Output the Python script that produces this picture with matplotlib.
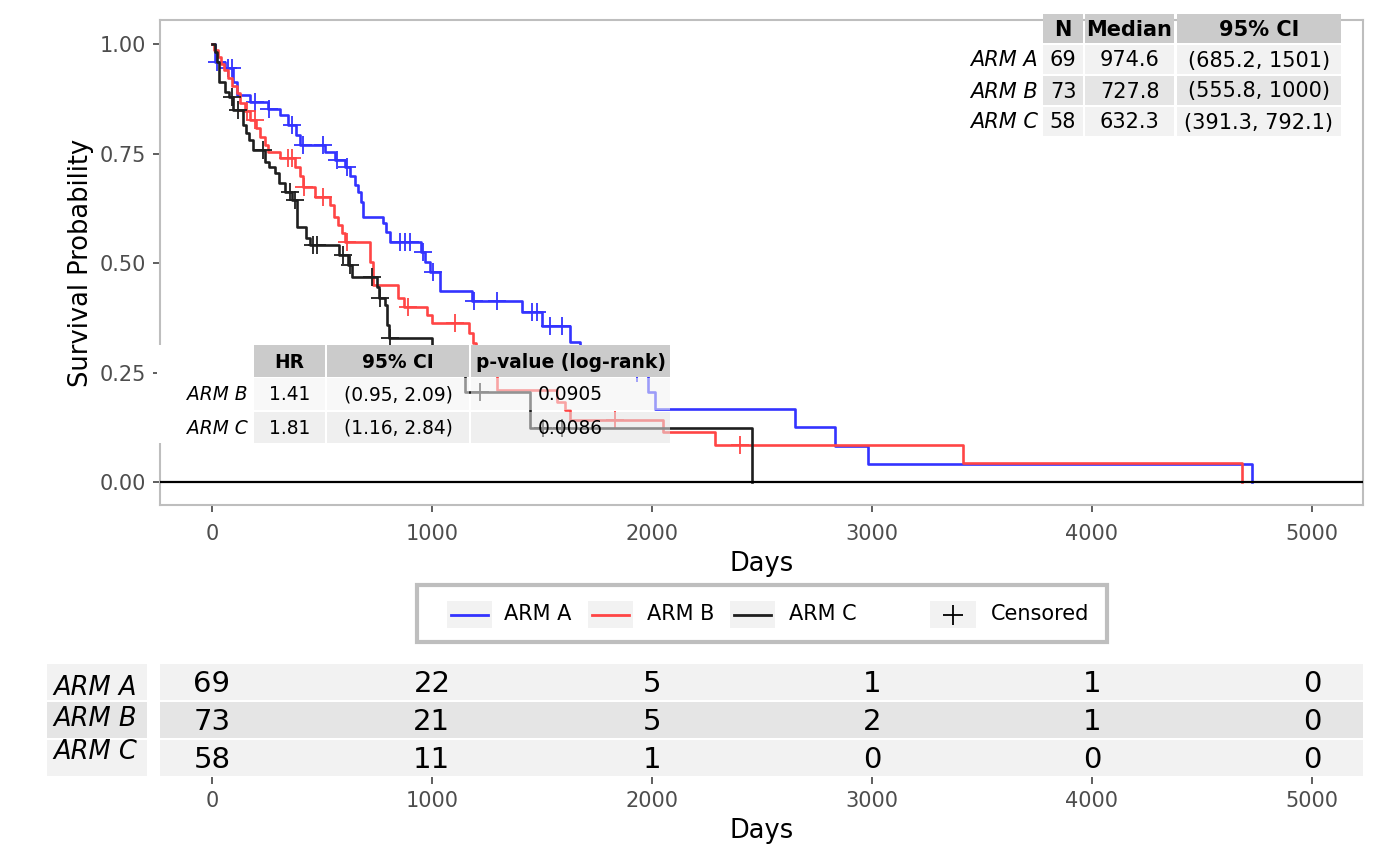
import numpy as np
import matplotlib
matplotlib.use("Agg")
import matplotlib.pyplot as plt
from matplotlib.patches import Rectangle

W, H = 1400, 866

# ---- data ----
arms = ["ARM A", "ARM B", "ARM C"]
colors = ["#3333ff", "#ff4545", "#1f1f1f"]

a_times = [14, 59, 95, 114, 173, 255, 309, 345, 382, 400, 514, 559, 605, 627, 650, 664, 677, 686,
           777, 791, 809, 950, 968, 991, 1036, 1182, 1409, 1500, 1627, 1673, 1764, 1855, 1982, 2014,
           2650, 2832, 2982, 4727]
a_surv = [0.959, 0.945, 0.913, 0.884, 0.868, 0.852, 0.838, 0.815, 0.792, 0.769, 0.753, 0.735, 0.719,
          0.699, 0.678, 0.662, 0.639, 0.605, 0.591, 0.571, 0.548, 0.525, 0.502, 0.479, 0.436, 0.413,
          0.388, 0.356, 0.320, 0.295, 0.272, 0.250, 0.205, 0.167, 0.125, 0.083, 0.042, 0.0]
a_cens = [23, 73, 91, 195, 259, 364, 414, 505, 568, 614, 855, 877, 900, 960, 1005, 1190, 1295,
          1455, 1477, 1536, 1591, 1932]

b_times = [9, 27, 41, 55, 73, 91, 114, 127, 150, 173, 200, 218, 241, 255, 309, 377, 400, 414, 468,
           536, 555, 573, 591, 605, 718, 732, 845, 873, 977, 1000, 1168, 1186, 1200, 1241, 1295,
           1568, 1605, 1627, 2050, 2286, 3414, 4682]
b_surv = [0.986, 0.970, 0.954, 0.941, 0.922, 0.904, 0.888, 0.865, 0.847, 0.826, 0.808, 0.788, 0.769,
          0.753, 0.740, 0.719, 0.699, 0.674, 0.651, 0.632, 0.605, 0.587, 0.568, 0.548, 0.502, 0.450,
          0.420, 0.400, 0.381, 0.363, 0.340, 0.317, 0.290, 0.260, 0.210, 0.183, 0.164, 0.142, 0.114,
          0.085, 0.043, 0.0]
b_cens = [160, 195, 345, 364, 420, 505, 614, 890, 1105, 1832, 2400]

c_times = [14, 23, 32, 59, 77, 95, 141, 155, 168, 186, 241, 259, 286, 305, 332, 364, 386, 427, 445,
           577, 618, 636, 750, 759, 786, 795, 805, 1000, 1082, 1150, 1445, 2455]
c_surv = [0.982, 0.959, 0.913, 0.890, 0.879, 0.849, 0.815, 0.797, 0.781, 0.758, 0.731, 0.719, 0.705,
          0.683, 0.662, 0.644, 0.582, 0.557, 0.541, 0.518, 0.495, 0.468, 0.445, 0.420, 0.404, 0.358,
          0.329, 0.285, 0.255, 0.205, 0.123, 0.0]
c_cens = [91, 118, 232, 355, 377, 459, 477, 595, 627, 727, 764, 810, 1218, 1505, 1591]

risk_times = [0, 1000, 2000, 3000, 4000, 5000]
risk_a = [69, 22, 5, 1, 1, 0]
risk_b = [73, 21, 5, 2, 1, 0]
risk_c = [58, 11, 1, 0, 0, 0]

# summary table (top right)
n_vals = [69, 73, 58]
medians = ["974.6", "727.8", "632.3"]
median_ci = ["(685.2, 1501)", "(555.8, 1000)", "(391.3, 792.1)"]

# coxph table
hr_arms = ["ARM B", "ARM C"]
hr_vals = ["1.41", "1.81"]
hr_ci = ["(0.95, 2.09)", "(1.16, 2.84)"]
p_vals = ["0.0905", "0.0086"]

x_ticks = [0, 1000, 2000, 3000, 4000, 5000]
y_ticks = [0.0, 0.25, 0.5, 0.75, 1.0]
XLIM = (-236, 5232)

GREY_TXT = "#4d4d4d"
ROW_LIGHT = "#f2f2f2"
ROW_DARK = "#e5e5e5"
HEAD = "#cbcbcb"


def box(x0, y0, x1, y1):
    """pixel box (top-left origin) -> figure fraction rect"""
    return [x0 / W, 1 - y1 / H, (x1 - x0) / W, (y1 - y0) / H]


fig = plt.figure(figsize=(W / 100, H / 100), dpi=100)

# ---- KM curves ----
ax = fig.add_axes(box(160, 20, 1363, 505))
for t, s, cens, col in zip([a_times, b_times, c_times], [a_surv, b_surv, c_surv],
                           [a_cens, b_cens, c_cens], colors):
    tt = np.r_[0, t]
    ss = np.r_[1.0, s]
    ax.step(tt, ss, where="post", color=col, lw=1.9, zorder=3)
    idx = np.searchsorted(tt, cens, side="right") - 1
    ax.plot(cens, ss[idx], ls="none", marker="+", ms=13.5, mew=1.3, color=col, zorder=3)
ax.axhline(0, color="black", lw=1.6, zorder=4)

ax.set_xlim(*XLIM)
ax.set_ylim(-0.0525, 1.055)
ax.set_xticks(x_ticks)
ax.set_yticks(y_ticks)
ax.set_yticklabels([f"{v:.2f}" for v in y_ticks])
ax.tick_params(axis="both", color="#333333", labelcolor=GREY_TXT, labelsize=15, length=5, width=1.1)
ax.tick_params(axis="x", pad=9)
ax.tick_params(axis="y", pad=5)
for sp in ax.spines.values():
    sp.set_color("#bebebe")
    sp.set_linewidth(1.5)
ax.set_xlabel("Days", fontsize=18.5, labelpad=5)
ax.set_ylabel("Survival Probability", fontsize=18.5, labelpad=4)

# ---- numbers at risk ----
axr = fig.add_axes(box(160, 663, 1363, 777))
axr.set_xlim(*XLIM)
axr.set_ylim(0, 3)
row_cols = [ROW_LIGHT, ROW_DARK, ROW_LIGHT]
for i, (vals, fc) in enumerate(zip([risk_a, risk_b, risk_c], row_cols)):
    yb = 2 - i
    axr.axhspan(yb + 1 / 38, yb + 37 / 38, color=fc, lw=0, zorder=0)
    for t, n in zip(risk_times, vals):
        axr.text(t, yb + 0.45, str(n), ha="center", va="center", fontsize=21, color="black")
for sp in axr.spines.values():
    sp.set_visible(False)
axr.set_yticks([])
axr.set_xticks(x_ticks)
axr.tick_params(axis="x", color="#333333", labelcolor=GREY_TXT, labelsize=15, length=5, width=1.1, pad=5)
axr.set_xlabel("Days", fontsize=18.5, labelpad=5)

# ---- overlay in pixel units for tables / legend ----
ov = fig.add_axes([0, 0, 1, 1])
ov.set_xlim(0, W)
ov.set_ylim(H, 0)
ov.axis("off")
ov.set_zorder(5)


def cell(x0, y0, x1, y1, fc, alpha=1.0):
    ov.add_patch(Rectangle((x0, y0), x1 - x0, y1 - y0, facecolor=fc, edgecolor="none", alpha=alpha))


# risk table row labels
lab_rows = [(664, 700), (702, 738), (740, 776)]
lab_y = [688, 719, 752]
for arm, (y0, y1), ly, fc in zip(arms, lab_rows, lab_y, row_cols):
    cell(47, y0, 147, y1, fc)
    ov.text(95, ly, arm, ha="center", va="center", fontsize=18.5, style="italic")

# summary table top right
s_cols = [(1043, 1083), (1085, 1174), (1177, 1341)]
s_head = (14, 43)
s_rows = [(45, 74), (76, 105), (107, 136)]
for (x0, x1), h in zip(s_cols, ["N", "Median", "95% CI"]):
    cell(x0, s_head[0], x1, s_head[1], HEAD)
    ov.text((x0 + x1) / 2, sum(s_head) / 2 + 1, h, ha="center", va="center", fontsize=15,
            fontweight="bold")
for i, (y0, y1) in enumerate(s_rows):
    fc = row_cols[i]
    row = [str(n_vals[i]), medians[i], median_ci[i]]
    for (x0, x1), txt in zip(s_cols, row):
        cell(x0, y0, x1, y1, fc)
        ov.text((x0 + x1) / 2, (y0 + y1) / 2 + 1, txt, ha="center", va="center", fontsize=15)
    ov.text(1038, (y0 + y1) / 2 + 1, arms[i], ha="right", va="center", fontsize=15, style="italic")

# hazard ratio table
h_cols = [(254, 325), (327, 469), (471, 670)]
h_head = (345, 377)
h_rows = [(378, 410), (412, 443)]
cell(157, 345, 254, 443, "white")
for (x0, x1), h in zip(h_cols, ["HR", "95% CI", "p-value (log-rank)"]):
    cell(x0, h_head[0], x1, h_head[1], HEAD)
    ov.text((x0 + x1) / 2, sum(h_head) / 2 + 1, h, ha="center", va="center", fontsize=13.4,
            fontweight="bold")
for i, (y0, y1) in enumerate(h_rows):
    fc = ["#f4f4f4", "#e3e3e3"][i]
    row = [hr_vals[i], hr_ci[i], p_vals[i]]
    for (x0, x1), txt in zip(h_cols, row):
        cell(x0, y0, x1, y1, fc, alpha=0.55)
        ov.text((x0 + x1) / 2, (y0 + y1) / 2 + 1, txt, ha="center", va="center", fontsize=13.4)
    ov.text(248, (y0 + y1) / 2 + 1, hr_arms[i], ha="right", va="center", fontsize=13.4, style="italic")

# legend
ov.add_patch(Rectangle((417, 585), 690, 57, facecolor="white", edgecolor="#bebebe", lw=3))
keys = [(447, 504), (588, 647), (730, 789)]
for (kx, tx), arm, col in zip(keys, arms, colors):
    cell(kx, 601, kx + 45, 628, ROW_LIGHT)
    ov.plot([kx + 4, kx + 41], [614.5, 614.5], color=col, lw=2)
    ov.text(tx, 614.5, arm, ha="left", va="center", fontsize=15)
cell(930, 601, 976, 628, ROW_LIGHT)
ov.plot([953], [614.5], marker="+", ms=15, mew=1.3, color="black")
ov.text(991, 614.5, "Censored", ha="left", va="center", fontsize=15)

fig.savefig("out.png", dpi=100)
